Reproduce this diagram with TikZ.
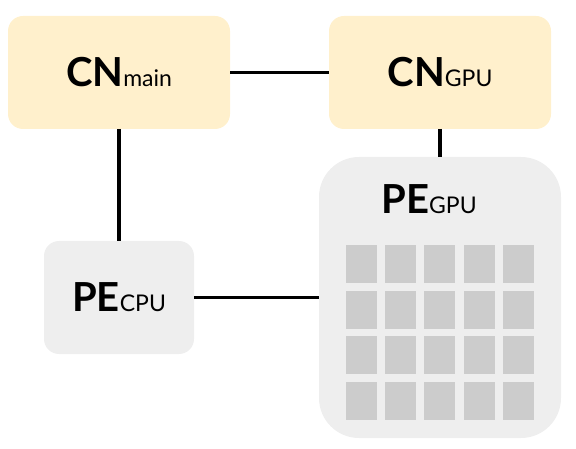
\documentclass[tikz,border=0pt]{standalone}
\usepackage{fontspec}
\setmainfont{Lato}
\definecolor{cnfill}{HTML}{FFF0CC}
\definecolor{pefill}{HTML}{EEEEEE}
\definecolor{corefill}{HTML}{CCCCCC}
\newcommand{\lbl}[2]{{\fontsize{40}{40}\selectfont\bfseries #1}{\fontsize{23}{23}\selectfont #2}}
\begin{document}
\begin{tikzpicture}[x=1pt,y=-1pt,line width=3.8pt,every node/.style={inner sep=0pt,outer sep=0pt},
  cnbox/.style={rectangle,fill=cnfill,rounded corners=15pt,minimum width=222pt,minimum height=113pt},
  pebox/.style={rectangle,fill=pefill,rounded corners=15pt,minimum width=150pt,minimum height=113pt},
  core/.style={fill=corefill,line width=0pt}]
\useasboundingbox (0,0) rectangle (576,449);
\node[cnbox] (cnmain) at (119,72.5) {\lbl{CN}{main}};
\node[cnbox] (cngpu) at (440,72.5) {\lbl{CN}{GPU}};
\node[pebox] (pecpu) at (119,297.5) {\lbl{PE}{CPU}};
\node[pebox,rounded corners=40pt,minimum width=242pt,minimum height=281pt] (pegpu) at (440,297.5) {};
\node (pegpulbl) at (429,199) {\lbl{PE}{GPU}};
\foreach \i in {0,...,4}
  \foreach \j in {0,...,3}
    \fill[core] (346+39.2*\i,245+45.7*\j) rectangle ++(31,38);
\draw (cnmain) -- (cngpu);
\draw (cnmain) -- (pecpu);
\draw (cngpu) -- (pegpu);
\draw (pecpu) -- (pegpu);
\end{tikzpicture}
\end{document}
